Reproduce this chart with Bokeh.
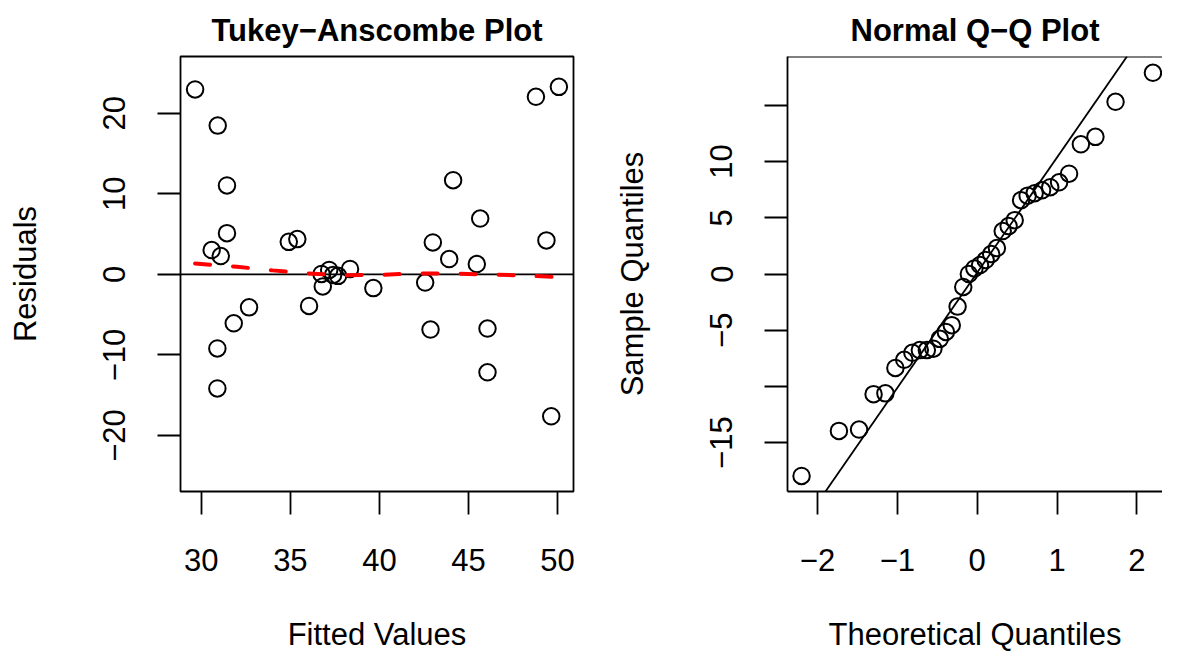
from bokeh.plotting import figure
from bokeh.layouts import row
from bokeh.models import Range1d, FixedTicker, Span, Slope
from bokeh.embed import file_html
from bokeh.resources import INLINE

# ---------------- data ----------------
fitted = [29.65, 30.92, 31.44, 31.44, 30.58, 31.09, 34.91, 35.39, 32.68, 31.82,
          30.90, 30.90, 36.05, 36.82, 36.75, 37.18, 37.40, 37.68, 38.35, 39.66,
          48.79, 50.08, 44.14, 45.66, 43.00, 43.92, 45.47, 49.38, 42.57, 42.87,
          46.07, 46.07, 49.65]
residuals = [22.96, 18.47, 11.04, 5.12, 3.02, 2.28, 4.04, 4.38, -4.09, -6.07,
             -9.19, -14.16, -3.92, -1.50, 0.06, 0.55, -0.06, -0.18, 0.68, -1.70,
             22.05, 23.28, 11.69, 6.93, 3.97, 1.91, 1.29, 4.22, -1.01, -6.84,
             -6.72, -12.15, -17.61]

lowess_x = [29.65, 32.0, 34.0, 36.0, 38.0, 40.0, 42.0, 44.0, 46.0, 48.0, 50.08]
lowess_y = [1.35, 0.95, 0.50, 0.12, -0.12, -0.05, 0.10, 0.10, 0.00, -0.12, -0.35]

theoretical_q = [-2.200, -1.732, -1.480, -1.298, -1.150, -1.025, -0.914, -0.812,
                 -0.719, -0.631, -0.549, -0.469, -0.393, -0.319, -0.246, -0.175,
                 -0.105, -0.035, 0.035, 0.105, 0.175, 0.246, 0.319, 0.393,
                 0.469, 0.549, 0.631, 0.719, 0.812, 0.914, 1.025, 1.150,
                 1.298, 1.480, 1.732, 2.200]
sample_q = [-17.97, -13.96, -13.84, -10.69, -10.62, -8.36, -7.63, -7.01,
            -6.77, -6.77, -6.65, -5.77, -5.15, -4.55, -2.90, -1.15,
            0.00, 0.49, 0.80, 1.24, 1.77, 2.31, 3.82, 4.26,
            4.79, 6.57, 6.97, 7.19, 7.45, 7.72, 8.16, 8.92,
            11.54, 12.20, 15.32, 17.90]
qq_slope = 10.25
qq_intercept = 0.13

ta_xticks = [30, 35, 40, 45, 50]
ta_yticks = [-20, -10, 0, 10, 20]
qq_xticks = [-2, -1, 0, 1, 2]
qq_yticks = [-15, -10, -5, 0, 5, 10, 15]

MINUS = "\u2212"
FONT = "Liberation Sans"
FS = "31px"
LW = 1.8


def fmt(v):
    return (MINUS + str(abs(v))) if v < 0 else str(v)


def style_axis(ax, ticks, standoff, label_standoff, skip=()):
    ax.ticker = FixedTicker(ticks=ticks)
    ax.major_label_overrides = {t: ("" if t in skip else fmt(t)) for t in ticks}
    ax.major_tick_out = 23
    ax.major_tick_in = 0
    ax.major_tick_line_width = LW
    ax.major_tick_line_color = "black"
    ax.minor_tick_line_color = None
    ax.major_label_text_font = FONT
    ax.major_label_text_font_size = FS
    ax.major_label_text_color = "black"
    ax.major_label_standoff = standoff
    ax.axis_label_text_font = FONT
    ax.axis_label_text_font_size = FS
    ax.axis_label_text_font_style = "normal"
    ax.axis_label_text_color = "black"
    ax.axis_label_standoff = label_standoff


def base_fig(width, mb_left, mb_right, xr, yr, title):
    p = figure(width=width, height=654, x_range=Range1d(*xr), y_range=Range1d(*yr),
               output_backend="svg", toolbar_location=None,
               min_border_left=mb_left, min_border_right=mb_right,
               min_border_top=56, min_border_bottom=160)
    p.xgrid.visible = False
    p.ygrid.visible = False
    p.background_fill_color = "white"
    p.border_fill_color = "white"
    p.title.text = title
    p.title.align = "center"
    p.title.text_font = FONT
    p.title.text_font_size = FS
    p.title.text_font_style = "bold"
    p.title.text_color = "black"
    p.title.standoff = 18
    return p


# ---------------- Tukey-Anscombe plot ----------------
p1 = base_fig(590, 180, 17, (28.83, 50.90), (-26.95, 27.05), "Tukey" + MINUS + "Anscombe Plot")
p1.outline_line_color = "black"
p1.outline_line_width = LW
p1.outline_line_alpha = 1
p1.xaxis.axis_label = "Fitted Values"
p1.yaxis.axis_label = "Residuals"
style_axis(p1.xaxis[0], ta_xticks, 34, 43)
style_axis(p1.yaxis[0], ta_yticks, 32, 58)
p1.yaxis.major_label_orientation = "parallel"
p1.xaxis.axis_line_color = None
p1.yaxis.axis_line_color = None

p1.add_layout(Span(location=0, dimension="width", line_color="black",
                   line_width=LW, level="underlay"))
p1.scatter(fitted, residuals, marker="circle", size=16.5, fill_color=None,
           line_color="black", line_width=2)
p1.line(lowess_x, lowess_y, line_color="#FF0000", line_width=4,
        line_dash="15 23", line_cap="round")

# ---------------- Normal Q-Q plot ----------------
p2 = base_fig(572, 197, 0, (-2.376, 2.32), (-19.35, 19.35), "Normal Q" + MINUS + "Q Plot")
p2.title.offset = 8
p2.outline_line_color = None
p2.xaxis.axis_label = "Theoretical Quantiles"
p2.yaxis.axis_label = "Sample Quantiles"
style_axis(p2.xaxis[0], qq_xticks, 34, 43)
style_axis(p2.yaxis[0], qq_yticks, 32, 58, skip=(15, -10))
p2.yaxis.major_label_orientation = "parallel"
p2.xaxis.axis_line_color = "black"
p2.xaxis.axis_line_width = LW
p2.yaxis.axis_line_color = "black"
p2.yaxis.axis_line_width = LW
p2.add_layout(Span(location=19.35, dimension="width", line_color="black", line_width=LW))

p2.scatter(theoretical_q, sample_q, marker="circle", size=16.5, fill_color=None,
           line_color="black", line_width=2)
p2.add_layout(Slope(gradient=qq_slope, y_intercept=qq_intercept,
                    line_color="black", line_width=LW))

layout = row(p1, p2)
open("out.html", "w").write(file_html(layout, INLINE))
